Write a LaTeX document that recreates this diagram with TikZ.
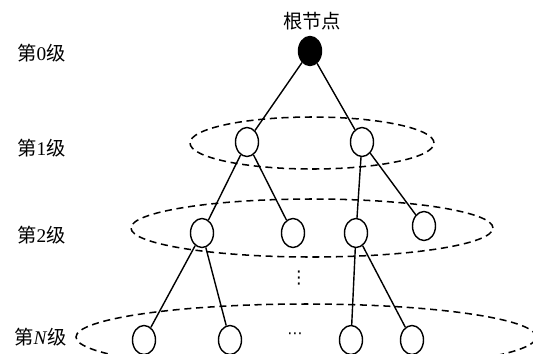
\documentclass[tikz,border=0pt]{standalone}
\usepackage{fontspec}
\setmainfont{Liberation Serif}
\newfontfamily\cjk{Noto Sans CJK SC}
\newfontfamily\symfont{DejaVu Sans}
\usetikzlibrary{shapes.geometric}

\newcommand{\levelname}[1]{{\cjk 第}#1{\cjk 级}}

\begin{document}
\begin{tikzpicture}[
    x=0.03cm, y=-0.03cm,
    treenode/.style={ellipse, draw, line width=1.2pt, fill=white, inner sep=0pt,
        minimum width=0.69cm, minimum height=0.87cm},
    ring/.style={ellipse, draw, line width=1.3pt, dash pattern=on 6pt off 4pt, inner sep=0pt},
    edge/.style={line width=1.2pt},
    lvltext/.style={anchor=west, inner sep=0pt, font=\fontsize{16.5}{18}\selectfont}
]
    \useasboundingbox (0,0) rectangle (533,353);
    \clip (0,0) rectangle (533,353);

    % ==========================================
    % 1. LEVEL LABELS
    % ==========================================
    \node[lvltext] (lab0) at (17, 53) {\levelname{0}};
    \node[lvltext] (lab1) at (17, 148) {\levelname{1}};
    \node[lvltext] (lab2) at (17, 235) {\levelname{2}};
    \node[lvltext] (labN) at (14, 337) {\levelname{\textit{N}}};

    \node[inner sep=0pt, font=\fontsize{16.5}{18}\selectfont\cjk] (rootlab) at (312, 21) {根节点};

    % ==========================================
    % 2. DASHED LEVEL RINGS
    % ==========================================
    \node[ring, minimum width=7.32cm, minimum height=1.56cm] (ring1) at (312, 143) {};
    \node[ring, minimum width=10.86cm, minimum height=1.74cm] (ring2) at (312, 228) {};
    \node[ring, minimum width=13.8cm, minimum height=1.98cm] (ringN) at (306, 337) {};

    % ==========================================
    % 3. TREE NODES
    % ==========================================
    \node[treenode, fill=black] (root) at (310, 51) {};

    \node[treenode] (a1) at (247, 142) {};
    \node[treenode] (a2) at (362, 142) {};

    \node[treenode] (b1) at (202, 233) {};
    \node[treenode] (b2) at (293, 233) {};
    \node[treenode] (b3) at (356, 233) {};
    \node[treenode] (b4) at (424, 226) {};

    \node[treenode] (c1) at (144, 340) {};
    \node[treenode] (c2) at (230, 340) {};
    \node[treenode] (c3) at (351, 340) {};
    \node[treenode] (c4) at (412, 340) {};

    \node[inner sep=0pt, font=\fontsize{15}{17}\selectfont\symfont] (vdots) at (299, 278) {⋮};
    \node[inner sep=0pt, font=\fontsize{13}{15}\selectfont\symfont] (hdots) at (295, 336) {⋯};

    % ==========================================
    % 4. EDGES
    % ==========================================
    \draw[edge] (root) -- (a1);
    \draw[edge] (root) -- (a2);

    \draw[edge] (a1) -- (b1);
    \draw[edge] (a1) -- (b2);
    \draw[edge] (a2) -- (b3);
    \draw[edge] (a2) -- (b4);

    \draw[edge] (b1) -- (c1);
    \draw[edge] (b1) -- (c2);
    \draw[edge] (b3) -- (c3);
    \draw[edge] (b3) -- (c4);

\end{tikzpicture}
\end{document}
